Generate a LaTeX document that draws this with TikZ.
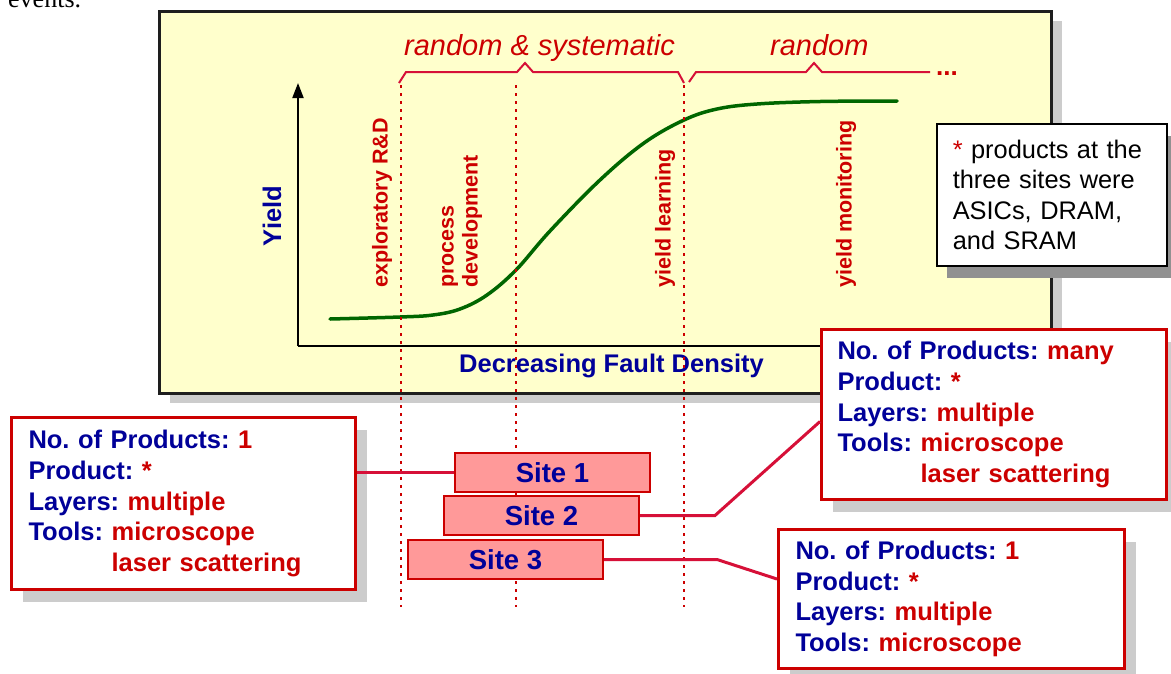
\documentclass[tikz,border=0pt]{standalone}
\usepackage{fontspec}
\setmainfont{Liberation Sans}
\newfontfamily\serifface{Liberation Serif}
\usetikzlibrary{arrows.meta,shadows,calc}
\definecolor{paleyellow}{RGB}{255,255,204}
\definecolor{navy}{RGB}{0,0,153}
\definecolor{darkred}{RGB}{204,0,0}
\definecolor{crimsonline}{RGB}{214,16,56}
\definecolor{sitepink}{RGB}{255,153,153}
\definecolor{curvegreen}{RGB}{0,102,0}
\definecolor{lightshade}{RGB}{204,204,204}
\definecolor{darkshade}{RGB}{145,145,145}
\definecolor{framegray}{RGB}{30,30,30}
\newcommand\keytxt[1]{\textcolor{navy}{#1}}
\newcommand\valtxt[1]{\textcolor{darkred}{#1}}
\frenchspacing
\begin{document}
\begin{tikzpicture}[x=1pt,y=-1pt,
  infobox/.style={draw=darkred, line width=3pt, fill=white, anchor=north west, align=left,
    inner ysep=0pt, font=\fontsize{25.5}{30.7}\selectfont\bfseries,
    drop shadow={shadow xshift=11pt, shadow yshift=-12pt, fill=lightshade, opacity=1}},
  notebox/.style={draw=black, line width=1.5pt, fill=white, anchor=north west, align=left,
    inner ysep=0pt, font=\fontsize{25.4}{30.5}\selectfont,
    drop shadow={shadow xshift=10pt, shadow yshift=-12pt, fill=darkshade, opacity=1}},
  sitebox/.style={draw=darkred, line width=2pt, fill=sitepink, minimum width=195pt,
    minimum height=39pt, inner sep=0pt, anchor=north west, text=navy,
    font=\fontsize{27.5}{30}\selectfont\bfseries},
  phase/.style={rotate=90, anchor=west, inner sep=0pt, text=darkred, align=left,
    font=\fontsize{21.5}{24}\selectfont\bfseries},
  region/.style={text=darkred, anchor=base west, inner sep=0pt,
    font=\fontsize{29}{31}\selectfont\itshape},
  brace/.style={draw=crimsonline, line width=2pt, line join=miter},
  guide/.style={draw=darkred, line width=2pt, dash pattern=on 2.5pt off 5.5pt},
  link/.style={draw=crimsonline, line width=3pt},
  axistext/.style={text=navy, inner sep=0pt, font=\fontsize{25.5}{28}\selectfont\bfseries}
]
\useasboundingbox (0,0) rectangle (1171,673);

% cut-off text above
\node[anchor=base west, inner sep=0pt, font=\serifface\fontsize{26}{28}\selectfont] (prev) at (8,7) {events.};

% chart panel
\node[draw=framegray, line width=2.5pt, fill=paleyellow, minimum width=892pt, minimum height=382pt,
  anchor=north west, inner sep=0pt,
  drop shadow={shadow xshift=11pt, shadow yshift=-10pt, fill=lightshade, opacity=1}] (panel) at (158,10) {};

% axes
\coordinate (origin) at (298,346);
\coordinate (ytop) at (298,83);
\coordinate (xend) at (1010,346);
\draw[line width=2pt, -{Triangle[length=15pt,width=11pt]}] (origin) -- (ytop);
\draw[line width=2pt] (origin) -- (xend);

% yield curve
\draw[curvegreen, line width=3.5pt, line cap=round] plot[smooth, tension=0.6] coordinates
  {(330,319) (400,317) (433,315) (460,309) (487,295) (516,270) (550,231) (600,180) (644,143) (684,120) (717,109) (757,104) (820,101.5) (897,101)};

% axis labels
\node[axistext, rotate=90] (ylabel) at (272,216) {Yield};
\node[axistext, anchor=west] (xlabel) at (459,366) {Decreasing Fault Density};

% phase labels
\node[phase] (explore) at (382,288) {exploratory R\&D};
\node[phase] (procdev) at (462,288) {process\\development};
\node[phase] (learn) at (665,288) {yield learning};
\node[phase] (monitor) at (846,288) {yield monitoring};

% region labels and braces
\node[region] (randsys) at (404,55) {random \& systematic};
\node[region] (rand) at (770,55) {random};
\draw[brace] (399,83) -- (406,72) -- (517,72) -- (525,63) -- (533,72) -- (678,72) -- (684,83);
\draw[brace] (689,82) -- (696,72) -- (806,72) -- (814,63) -- (822,72) -- (930,72);
\node[text=darkred, font=\fontsize{26}{28}\selectfont\bfseries, anchor=base west, inner sep=0pt] (more) at (936,75) {...};

% dotted phase boundaries
\coordinate (g1t) at (401,85);  \coordinate (g1b) at (401,607);
\coordinate (g2t) at (516,85);  \coordinate (g2b) at (516,607);
\coordinate (g3t) at (684,85);  \coordinate (g3b) at (684,607);
\draw[guide] (g1t) -- (g1b);
\draw[guide] (g2t) -- (g2b);
\draw[guide] (g3t) -- (g3b);

% footnote box
\node[notebox, minimum width=230pt, minimum height=142pt, inner xsep=16pt, text width=198pt] (note) at (936,123)
  {\textcolor{darkred}{*} products at the\\three sites were\\ASICs, DRAM,\\and SRAM};

% site boxes
\node[sitebox] (site1) at (454,452) {Site 1};
\node[sitebox] (site2) at (443,495) {Site 2};
\node[sitebox] (site3) at (407,539) {Site 3};

% info boxes
\node[infobox, minimum width=344pt, minimum height=172pt, inner xsep=17pt, text width=310pt] (left) at (10,416)
  {\keytxt{No. of Products:} \valtxt{1}\\
   \keytxt{Product:} \valtxt{*}\\
   \keytxt{Layers:} \valtxt{multiple}\\
   \keytxt{Tools:} \valtxt{microscope}\\
   \phantom{Tools: }\valtxt{laser scattering}};
\node[infobox, minimum width=345pt, minimum height=170pt, inner xsep=16pt, text width=313pt] (many) at (820,328)
  {\keytxt{No. of Products:} \valtxt{many}\\
   \keytxt{Product:} \valtxt{*}\\
   \keytxt{Layers:} \valtxt{multiple}\\
   \keytxt{Tools:} \valtxt{microscope}\\
   \phantom{Tools: }\valtxt{laser scattering}};
\node[infobox, minimum width=346pt, minimum height=139pt, inner xsep=17pt, text width=312pt] (single) at (777,528)
  {\keytxt{No. of Products:} \valtxt{1}\\
   \keytxt{Product:} \valtxt{*}\\
   \keytxt{Layers:} \valtxt{multiple}\\
   \keytxt{Tools:} \valtxt{microscope}};

% connectors
\coordinate (bend2) at ($(site2.east)+(75,0)$);
\coordinate (bend3) at ($(site3.east)+(113,0)$);
\draw[link] (site1.west) -- (site1.west -| left.east);
\draw[link] (site2.east) -- (bend2) -- ($(many.west)+(0,7)$);
\draw[link] (site3.east) -- (bend3) -- ($(single.west)+(0,-20)$);
\end{tikzpicture}
\end{document}
